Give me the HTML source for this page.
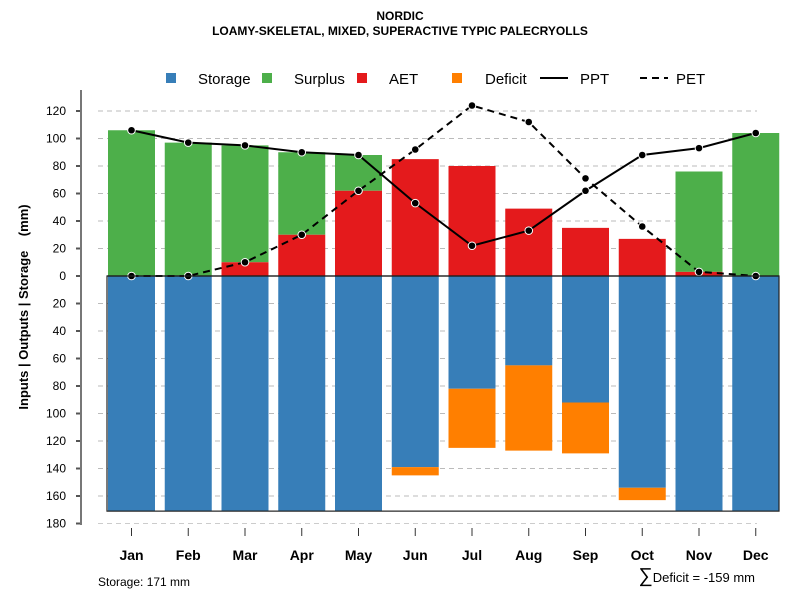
<!DOCTYPE html>
<html><head><meta charset="utf-8"><style>
body{margin:0;background:#fff;}
svg{display:block;font-family:"Liberation Sans",Arial,sans-serif;}
</style></head><body>
<svg id="chart" width="800" height="600" viewBox="0 0 800 600" xmlns="http://www.w3.org/2000/svg">
<text x="400" y="20" text-anchor="middle" font-size="12" font-weight="bold">NORDIC</text>
<text x="400" y="35" text-anchor="middle" font-size="12" font-weight="bold">LOAMY-SKELETAL, MIXED, SUPERACTIVE TYPIC PALECRYOLLS</text>
<g font-size="15">
<rect x="166" y="73" width="10" height="10" fill="#377eb8"/>
<text x="198" y="84">Storage</text>
<rect x="262" y="73" width="10" height="10" fill="#4daf4a"/>
<text x="294" y="84">Surplus</text>
<rect x="357" y="73" width="10" height="10" fill="#e41a1c"/>
<text x="389" y="84">AET</text>
<rect x="452" y="73" width="10" height="10" fill="#ff7f00"/>
<text x="485" y="84">Deficit</text>
<line x1="540" y1="78" x2="568" y2="78" stroke="#000" stroke-width="2"/>
<text x="580" y="84">PPT</text>
<line x1="640" y1="78" x2="668" y2="78" stroke="#000" stroke-width="2" stroke-dasharray="7,5"/>
<text x="676" y="84">PET</text>
</g>
<text transform="translate(28,307) rotate(-90)" text-anchor="middle" font-size="13" font-weight="bold" xml:space="preserve">Inputs | Outputs | Storage    (mm)</text>
<g id="grid"></g><g id="bars"></g><g id="lines"></g><g id="axes"></g>
<text x="98" y="586" font-size="12">Storage: 171 mm</text>
<text x="755" y="582" text-anchor="end" font-size="13"><tspan font-size="20">∑</tspan>Deficit = -159 mm</text>
</svg>
<script>
const months=["Jan","Feb","Mar","Apr","May","Jun","Jul","Aug","Sep","Oct","Nov","Dec"];
const ppt=[106,97,95,90,88,53,22,33,62,88,93,104];
const pet=[0,0,10,30,62,92,124,112,71,36,3,0];
const aet=[0,0,10,30,62,85,80,49,35,27,3,0];
const surplus=[106,97,85,60,26,0,0,0,0,0,73,104];
const storage=[171,171,171,171,171,139,82,65,92,154,171,171];
const deficit=[0,0,0,0,0,6,43,62,37,9,0,0];
const yTicks=[120,100,80,60,40,20,0,20,40,60,80,100,120,140,160,180];
const yTickVals=[120,100,80,60,40,20,0,-20,-40,-60,-80,-100,-120,-140,-160,-180];
const NS="http://www.w3.org/2000/svg";
const y=v=>276-v*1.375;
const x=i=>131.5+i*56.75;
const bw=47;
function mk(tag,attrs,parent){const e=document.createElementNS(NS,tag);for(const k in attrs)e.setAttribute(k,attrs[k]);document.getElementById(parent).appendChild(e);return e;}
yTickVals.forEach((v,i)=>{
 if(v!==0){const g=mk('line',{x1:98,x2:757,y1:y(v),y2:y(v),stroke:'#bbb','stroke-dasharray':'5,4'},'grid');
 
 }
 const t=mk('line',{x1:76,x2:82,y1:y(v),y2:y(v),stroke:'#555','stroke-width':2},'axes');
 
 
 const l=mk('text',{x:66,y:y(v)+4,'text-anchor':'end','font-size':12},'axes');l.textContent=yTicks[i];
 
 
});
const ax=mk('line',{x1:81,x2:81,y1:90,y2:525,stroke:'#777','stroke-width':2},'axes');


const box=mk('rect',{x:107,y:276,width:672,height:171*1.375,fill:'none',stroke:'#222','stroke-width':1.2},'axes');


months.forEach((m,i)=>{
 const cx=x(i),x0=cx-bw/2;
 const s=mk('rect',{x:x0,y:y(0),width:bw,height:storage[i]*1.375,fill:'#377eb8'},'bars');
 
 
 if(deficit[i]>0){const d=mk('rect',{x:x0,y:y(-storage[i]),width:bw,height:deficit[i]*1.375,fill:'#ff7f00'},'bars');
 
 }
 if(surplus[i]>0){const g=mk('rect',{x:x0,y:y(aet[i]+surplus[i]),width:bw,height:surplus[i]*1.375,fill:'#4daf4a'},'bars');
 
 }
 if(aet[i]>0){const a=mk('rect',{x:x0,y:y(aet[i]),width:bw,height:aet[i]*1.375,fill:'#e41a1c'},'bars');
 
 }
 const tk=mk('line',{x1:cx,x2:cx,y1:528,y2:536,stroke:'#333','stroke-width':1},'axes');
 
 
 const lb=mk('text',{x:cx,y:560,'text-anchor':'middle','font-size':14,'font-weight':'bold'},'axes');lb.textContent=m;
 
 
});
const bl=mk('line',{x1:98,x2:757,y1:y(-180),y2:y(-180),stroke:'#ccc','stroke-dasharray':'5,4'},'axes');


const zl=mk('line',{x1:107,x2:779,y1:y(0),y2:y(0),stroke:'#000','stroke-width':1.2},'lines');


function series(vals,name,dash){
 const p=mk('polyline',{points:vals.map((v,i)=>x(i)+','+y(v)).join(' '),fill:'none',stroke:'#000','stroke-width':2,'stroke-dasharray':dash},'lines');
 
 
 vals.forEach((v,i)=>{const c=mk('circle',{cx:x(i),cy:y(v),r:3.8,fill:'#000',stroke:'#fff','stroke-width':1},'lines');
 
 });
}
series(pet,'pet','7,5');
series(ppt,'ppt','none');
</script>
</body></html>
